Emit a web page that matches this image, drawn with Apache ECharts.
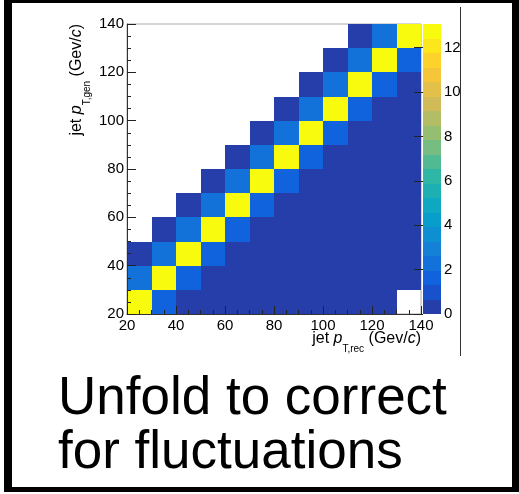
<!DOCTYPE html>
<html>
<head>
<meta charset="utf-8">
<script src="https://cdn.jsdelivr.net/npm/echarts@6/dist/echarts.min.js"></script>
<style>
  html, body { margin: 0; padding: 0; background: #fff; }
  #chart { width: 519px; height: 494px; }
</style>
</head>
<body>
<div id="chart"></div>
<script>
// bin lower edges (GeV/c), same for rec (x) and gen (y)
const binLow = [20, 30, 40, 50, 60, 70, 80, 90, 100, 110, 120, 130];
const binWidth = 10;
const axisTicks = [20, 40, 60, 80, 100, 120, 140];
const zTicks = [0, 2, 4, 6, 8, 10, 12];
const zMax = 13.07;
const nContours = 20;

// response matrix rows, one per gen bin (bottom to top), values per rec bin
const row20 = [13.0, 1.6, 0.3, 0.3, 0.3, 0.3, 0.3, 0.3, 0.3, 0.3, 0.3, null];
const row30 = [2.3, 13.0, 1.6, 0.3, 0.3, 0.3, 0.3, 0.3, 0.3, 0.3, 0.3, 0.3];
const row40 = [0.3, 2.3, 13.0, 1.6, 0.3, 0.3, 0.3, 0.3, 0.3, 0.3, 0.3, 0.3];
const row50 = [null, 0.3, 2.3, 13.0, 1.6, 0.3, 0.3, 0.3, 0.3, 0.3, 0.3, 0.3];
const row60 = [null, null, 0.3, 2.3, 13.0, 1.6, 0.3, 0.3, 0.3, 0.3, 0.3, 0.3];
const row70 = [null, null, null, 0.3, 2.3, 13.0, 1.6, 0.3, 0.3, 0.3, 0.3, 0.3];
const row80 = [null, null, null, null, 0.3, 2.3, 13.0, 1.6, 0.3, 0.3, 0.3, 0.3];
const row90 = [null, null, null, null, null, 0.3, 2.3, 13.0, 1.6, 0.3, 0.3, 0.3];
const row100 = [null, null, null, null, null, null, 0.3, 2.3, 13.0, 1.6, 0.3, 0.3];
const row110 = [null, null, null, null, null, null, null, 0.3, 2.3, 13.0, 1.6, 0.3];
const row120 = [null, null, null, null, null, null, null, null, 0.3, 2.3, 13.0, 1.6];
const row130 = [null, null, null, null, null, null, null, null, null, 0.3, 2.3, 13.0];
const rows = [row20, row30, row40, row50, row60, row70, row80, row90, row100, row110, row120, row130];

// ROOT kBird palette sampled at the 20 contour levels
const birdColors = ['#263eaa', '#1752cc', '#1063dc', '#1272d9', '#1481d6', '#0e8fd1', '#099dcc',
  '#0ea8c2', '#1eafb3', '#2eb7a4', '#52ba92', '#75bd80', '#96be71', '#b3bd65', '#d1bb59',
  '#e3c04a', '#f5c63a', '#fdd32b', '#fbe71c', '#f9fb0e'];

const FONT = '"Liberation Sans", Arial, Helvetica, sans-serif';

const cells = [];
rows.forEach((row, j) => {
    row.forEach((v, i) => {
        if (v !== null) cells.push([binLow[i], binLow[j], v]);
    });
});

const bandW = zMax / nContours;
const bands = birdColors.map((c, k) => [k * bandW, (k + 1) * bandW, k]);
const pieces = birdColors.map((c, k) => ({ min: k * bandW, max: (k + 1) * bandW, color: c }));

// snap a box to whole pixels so neighbouring cells share edges
function box(a, b, fill) {
    const x0 = Math.round(a[0]), y0 = Math.round(a[1]);
    const x1 = Math.round(b[0]), y1 = Math.round(b[1]);
    return {
        type: 'rect',
        shape: { x: x0, y: y0, width: x1 - x0, height: y1 - y0 },
        style: { fill: fill }
    };
}

const chart = echarts.init(document.getElementById('chart'));

const axisCommon = {
    type: 'value',
    min: 20,
    max: 140,
    interval: 20,
    z: 10,
    splitLine: { show: false },
    axisLine: { lineStyle: { color: '#333', width: 1 } },
    axisTick: { inside: true, lineStyle: { color: '#222' }, customValues: axisTicks },
    minorTick: { show: true, splitNumber: 4, length: 4, lineStyle: { color: '#222' } },
    axisLabel: { color: '#000', fontSize: 15, fontFamily: FONT }
};

const titleRich = {
    m: { fontSize: 16, fontFamily: FONT, color: '#000', lineHeight: 30 },
    p: { fontSize: 16, fontFamily: FONT, color: '#000', fontStyle: 'italic', lineHeight: 30 },
    s: { fontSize: 10, fontFamily: FONT, color: '#000', padding: [20, 0, 0, 0], lineHeight: 10 }
};

const option = {
    backgroundColor: '#fff',
    animation: false,
    grid: [
        { left: 127, top: 24, width: 294, height: 290, show: true, borderColor: '#aaa', borderWidth: 1 },
        { left: 423, top: 24, width: 18, height: 290 }
    ],
    xAxis: [
        Object.assign({}, axisCommon, {
            gridIndex: 0,
            axisTick: Object.assign({}, axisCommon.axisTick, { length: 8 }),
            axisLabel: Object.assign({}, axisCommon.axisLabel, { margin: 4 })
        }),
        { type: 'value', gridIndex: 1, min: 0, max: 1, show: false }
    ],
    yAxis: [
        Object.assign({}, axisCommon, {
            gridIndex: 0,
            axisTick: Object.assign({}, axisCommon.axisTick, { length: 9 }),
            axisLabel: Object.assign({}, axisCommon.axisLabel, { margin: 3 })
        }),
        {
            type: 'value', gridIndex: 1, position: 'right', min: 0, max: zMax, z: 10,
            splitLine: { show: false },
            axisLine: { show: false },
            axisTick: { inside: true, length: 9, lineStyle: { color: '#222' }, customValues: zTicks },
            axisLabel: { color: '#000', fontSize: 15, fontFamily: FONT, margin: 3, customValues: zTicks }
        }
    ],
    visualMap: {
        type: 'piecewise',
        show: false,
        seriesIndex: 0,
        dimension: 2,
        pieces: pieces
    },
    series: [
        {
            type: 'custom',
            xAxisIndex: 0,
            yAxisIndex: 0,
            encode: { x: 0, y: 1 },
            data: cells,
            renderItem: (params, api) => {
                const x0 = api.value(0), y0 = api.value(1);
                return box(api.coord([x0, y0 + binWidth]), api.coord([x0 + binWidth, y0]), api.visual('color'));
            }
        },
        {
            type: 'custom',
            xAxisIndex: 1,
            yAxisIndex: 1,
            data: bands,
            renderItem: (params, api) => {
                return box(api.coord([0, api.value(1)]), api.coord([1, api.value(0)]), birdColors[api.value(2)]);
            }
        }
    ],
    graphic: [
        // slide frame
        { type: 'rect', shape: { x: 4, y: 0, width: 8, height: 492 }, style: { fill: '#000' } },
        { type: 'rect', shape: { x: 4, y: 0, width: 515, height: 3 }, style: { fill: '#000' } },
        { type: 'rect', shape: { x: 512, y: 0, width: 7, height: 492 }, style: { fill: '#000' } },
        { type: 'rect', shape: { x: 4, y: 487, width: 515, height: 5 }, style: { fill: '#000' } },
        { type: 'line', shape: { x1: 460.5, y1: 7, x2: 460.5, y2: 356 }, style: { stroke: '#333', lineWidth: 1 } },
        {
            type: 'text', x: -8, y: 197,
            style: { text: ')', fontSize: 26, fontFamily: FONT, fill: '#000', align: 'left', verticalAlign: 'middle' }
        },
        // axis titles
        {
            type: 'text', x: 421, y: 339, z: 20,
            style: {
                text: '{m|jet }{p|p}{s|T,rec}{m| (Gev/}{p|c}{m|)}',
                rich: titleRich, align: 'right', verticalAlign: 'middle'
            }
        },
        {
            type: 'text', x: 77, y: 24, rotation: Math.PI / 2, z: 20,
            style: {
                text: '{m|jet }{p|p}{s|T,gen}{m| (Gev/}{p|c}{m|)}',
                rich: titleRich, align: 'right', verticalAlign: 'middle'
            }
        },
        // slide text
        {
            type: 'text', x: 58, y: 399,
            style: { text: 'Unfold to correct', fontSize: 53, fontFamily: FONT, fill: '#000', verticalAlign: 'middle' }
        },
        {
            type: 'text', x: 58, y: 453,
            style: { text: 'for fluctuations', fontSize: 53, fontFamily: FONT, fill: '#000', verticalAlign: 'middle' }
        }
    ]
};

chart.setOption(option);
window.addEventListener('resize', () => chart.resize());
</script>
</body>
</html>
